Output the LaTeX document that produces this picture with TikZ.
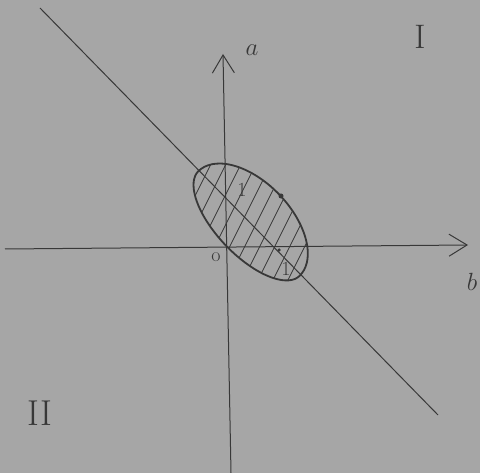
\documentclass[tikz,border=0pt]{standalone}
\usetikzlibrary{arrows.meta}
\begin{document}
\begin{tikzpicture}[x=1pt,y=-1pt,
  pen/.style={draw=black!78, line width=1pt},
  axis/.style={pen, -{Straight Barb[length=18pt,width=22pt,line width=1pt]}},
  label/.style={text=black!78, inner sep=0pt},
  dotmark/.style={circle, fill=black!78, inner sep=0pt, minimum size=5pt}]
% background (whiteboard photo)
\fill[black!35] (0,0) rectangle (480,473);
\useasboundingbox (0,0) rectangle (480,473);
% coordinates
\coordinate (vbot) at (231,473);
\coordinate (vtop) at (223,54);
\coordinate (hleft) at (5,249);
\coordinate (hright) at (468,245);
\coordinate (dstart) at (40,8);
\coordinate (dend) at (438,415);
% hatched region
\def\lens{plot[smooth cycle, domain=0:350, samples=36, variable=\t]
    ({249 + 73*cos(\t)*0.692 + (37+5*sign(sin(\t)))*sin(\t)*0.719},{223.5 + 73*cos(\t)*0.719 - (37+5*sign(sin(\t)))*sin(\t)*0.692})}
\begin{scope}
  \clip \lens;
  \foreach \k in {-6,...,8}
    \draw[pen, line width=0.8pt] ({188+\k*15},300) -- ({188+\k*15+70},160);
\end{scope}
\draw[pen, line width=1.8pt] \lens;
% axes and line
\draw[axis] (vbot) -- (vtop);
\draw[axis] (hleft) -- (hright);
\draw[pen] (dstart) -- (dend);
% marks
\node[dotmark] (p1) at (281,196) {};
\node[dotmark, minimum size=3.5pt] (p2) at (279,250) {};
% labels
\node[label, font=\fontsize{26}{26}\selectfont] (la) at (252,50) {$a$};
\node[label, font=\fontsize{30}{30}\selectfont] (lb) at (472,282) {$b$};
\node[label, font=\fontsize{20}{20}\selectfont] (lo) at (216,257) {o};
\node[label, font=\fontsize{20}{20}\selectfont] (l1) at (242,190) {1};
\node[label, font=\fontsize{20}{20}\selectfont] (l2) at (286,269) {1};
\node[label, font=\fontsize{34}{34}\selectfont] (lI) at (420,37) {I};
\node[label, font=\fontsize{36}{36}\selectfont] (lII) at (40,413) {II};
\end{tikzpicture}
\end{document}
